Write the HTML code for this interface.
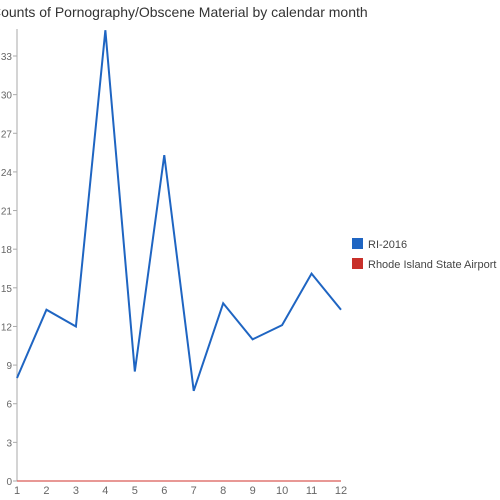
<!DOCTYPE html>
<html><head><meta charset="utf-8"><style>body{margin:0;background:#fff}svg{display:block;font-family:"Liberation Sans",sans-serif}</style></head>
<body>
<svg id="c" width="500" height="500" viewBox="0 0 500 500">
<text x="-9" y="17" font-size="14" fill="#333">Counts of Pornography/Obscene Material by calendar month</text>
<g id="axes"></g><g id="series"></g>
<g>
<rect x="352" y="238" width="11" height="11" fill="#1f65c2"/>
<text x="368" y="248" font-size="11" fill="#444">RI-2016</text>
<rect x="352" y="258" width="11" height="11" fill="#c8302a"/>
<text x="368" y="268" font-size="11" fill="#444">Rhode Island State Airport</text>
</g>
</svg>
<script>
const months=[1,2,3,4,5,6,7,8,9,10,11,12];
const ri2016=[8,13.3,12,35,8.5,25.3,7,13.8,11,12.1,16.1,13.3];
const airport=[0,0,0,0,0,0,0,0,0,0,0,0];
const yTicks=[0,3,6,9,12,15,18,21,24,27,30,33];
const NS="http://www.w3.org/2000/svg";
const x=m=>17+(m-1)*(341-17)/11;
const y=v=>481-v*(481-56)/33;
const ax=document.getElementById('axes'),se=document.getElementById('series');
function mk(t,a,p){const e=document.createElementNS(NS,t);for(const k in a)e.setAttribute(k,a[k]);p.appendChild(e);return e;}
const yl=mk('line',{x1:17,y1:29,x2:17,y2:481,stroke:'#aaa'},ax);


yTicks.forEach(t=>{
 const l=mk('line',{x1:13,x2:17,y1:y(t),y2:y(t),stroke:'#aaa'},ax);
 
 
 const tx=mk('text',{x:12,y:y(t)+4,'font-size':10,fill:'#666','text-anchor':'end'},ax);
 tx.textContent=t;
 
 
});
months.forEach(m=>{
 const tx=mk('text',{x:x(m),y:494,'font-size':11,fill:'#666','text-anchor':'middle'},ax);
 tx.textContent=m;
 
 
});
const a=mk('polyline',{points:months.map((m,i)=>x(m)+','+y(airport[i])).join(' '),fill:'none',stroke:'#d9534f','stroke-width':1.5,'stroke-opacity':0.8},se);


const r=mk('polyline',{points:months.map((m,i)=>x(m)+','+y(ri2016[i])).join(' '),fill:'none',stroke:'#1f65c2','stroke-width':2},se);


</script>
</body></html>
